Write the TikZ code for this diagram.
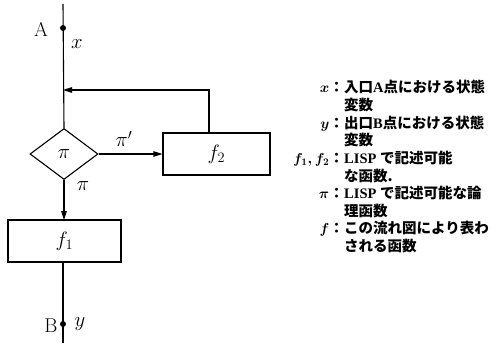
\documentclass[tikz,border=0pt]{standalone}
\usepackage{amsmath}
\usepackage{fontspec}
\newfontfamily\jp{Noto Sans CJK JP}
\newfontfamily\lat{Liberation Serif}
\usetikzlibrary{arrows.meta,shapes.geometric}
\tikzset{
  flow/.style={line width=1.1pt},
  tip/.style={-{Triangle[length=9pt,width=5.5pt]}},
  procbox/.style={draw,line width=1.1pt,rectangle,inner sep=0pt,font=\fontsize{20}{20}\selectfont},
  lbl/.style={inner sep=0pt,font=\fontsize{20}{20}\selectfont},
  keyl/.style={anchor=base east,inner sep=0pt,font=\fontsize{14.5}{14.5}\selectfont\bfseries},
  keyt/.style={anchor=base west,inner sep=0pt,font=\fontsize{14.5}{14.5}\selectfont\bfseries},
  dot/.style={circle,fill,inner sep=0pt,minimum size=6pt}
}
\begin{document}
\begin{tikzpicture}[x=1pt,y=-1pt]
\useasboundingbox (0,0) rectangle (496,345);
% flow chart elements
\coordinate (top) at (63,4);
\coordinate (bot) at (63,343);
\coordinate (join) at (63,90);
\node[dot] (A) at (63,28) {};
\node[dot] (B) at (63,324) {};
\node[draw,diamond,line width=1.1pt,inner sep=0pt,minimum width=68pt,minimum height=51pt,aspect=1.33,font=\fontsize{20}{20}\selectfont] (pi) at (64,154) {$\pi$};
\node[procbox,minimum width=107pt,minimum height=42pt] (f2) at (216.5,154) {$f_2$};
\node[procbox,minimum width=113pt,minimum height=42pt] (f1) at (64.5,241) {$f_1$};
\coordinate (back) at (209,133);
\coordinate (f1in) at (64,220);
\coordinate (f1out) at (63,262);
% connectors
\draw[flow] (top) -- (pi.north);
\draw[flow,tip] (pi.east) -- (f2.west);
\draw[flow,tip] (back) |- (join);
\draw[flow,tip] (pi.south) -- (f1in);
\draw[flow] (f1out) -- (bot);
% labels of the chart
\node[lbl] (tA) at (41,29) {A};
\node[lbl] (tx) at (77,44) {$x$};
\node[lbl] (tpp) at (124,139) {$\pi'$};
\node[lbl] (tpb) at (83,186) {$\pi$};
\node[lbl] (tB) at (51,326) {B};
\node[lbl] (ty) at (80,324) {$y$};
% legend
\node[keyl] (k1) at (344,93) {$\boldsymbol{x}$\jp ：};
\node[keyt] (t1) at (344,93) {\jp 入口\lat A\jp 点における状態};
\node[keyt] (t1b) at (344,110.6) {\jp 変数};
\node[keyl] (k2) at (344,128.2) {$\boldsymbol{y}$\jp ：};
\node[keyt] (t2) at (344,128.2) {\jp 出口\lat B\jp 点における状態};
\node[keyt] (t2b) at (344,145.8) {\jp 変数};
\node[keyl] (k3) at (344,163.4) {$\boldsymbol{f_1, f_2}$\jp ：};
\node[keyt] (t3) at (344,163.4) {\lat LISP \jp で記述可能};
\node[keyt] (t3b) at (344,181) {\jp な函数.};
\node[keyl] (k4) at (344,198.6) {$\boldsymbol{\pi}$\jp ：};
\node[keyt] (t4) at (344,198.6) {\lat LISP \jp で記述可能な論};
\node[keyt] (t4b) at (344,216.2) {\jp 理函数};
\node[keyl] (k5) at (344,233.8) {$\boldsymbol{f}$\jp ：};
\node[keyt] (t5) at (344,233.8) {\jp この流れ図により表わ};
\node[keyt] (t5b) at (344,251.4) {\jp される函数};
\end{tikzpicture}
\end{document}
